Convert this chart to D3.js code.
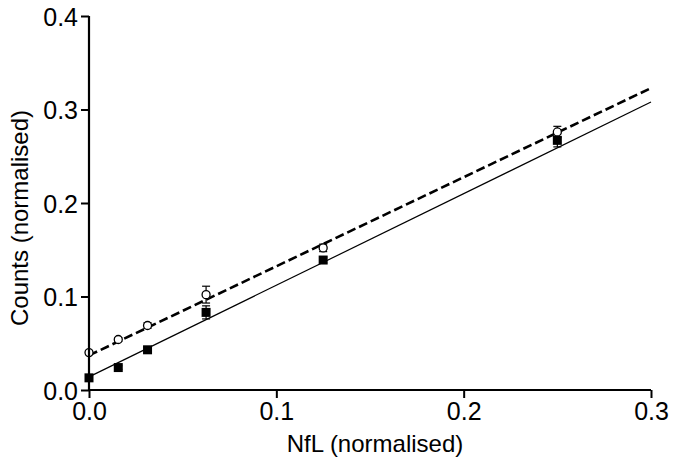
<!DOCTYPE html>
<html><head><meta charset="utf-8">
<script src="https://cdn.jsdelivr.net/npm/d3@7"></script>
<style>body{margin:0;background:#fff}svg{display:block}text{font-family:"Liberation Sans",Arial,sans-serif}</style>
</head><body>
<svg id="c" width="674" height="473"></svg>
<script>
const xValues = [0, 0.015625, 0.03125, 0.0625, 0.125, 0.25];
const openValues = [0.040, 0.054, 0.069, 0.102, 0.152, 0.276];
const openErr = [0.002, 0.002, 0.003, 0.009, 0.004, 0.006];
const filledValues = [0.013, 0.024, 0.043, 0.083, 0.139, 0.267];
const filledErr = [0.002, 0.002, 0.003, 0.007, 0.003, 0.007];
const openFit = [0.037, 0.953];   // intercept, slope
const filledFit = [0.014, 0.980];
const xTicks = [0.0, 0.1, 0.2, 0.3];
const yTicks = [0.0, 0.1, 0.2, 0.3, 0.4];

const svg = d3.select("#c");
const x = d3.scaleLinear().domain([0, 0.3]).range([89, 651]);
const y = d3.scaleLinear().domain([0, 0.4]).range([390, 16]);

const fitLine = (f) => [[0, f[0]], [0.3, f[0] + f[1] * 0.3]];
svg.append("path").attr("d", d3.line().x(d => x(d[0])).y(d => y(d[1]))(fitLine(filledFit)))
  .attr("stroke", "#000").attr("stroke-width", 1.2).attr("fill", "none");
svg.append("path").attr("d", d3.line().x(d => x(d[0])).y(d => y(d[1]))(fitLine(openFit)))
  .attr("stroke", "#000").attr("stroke-width", 2.6).attr("fill", "none").attr("stroke-dasharray", "9,4");

function errBars(vals, errs) {
  const g = svg.append("g").attr("stroke", "#000").attr("stroke-width", 1.2);
  xValues.forEach((xv, i) => {
    const cx = x(xv), y1 = y(vals[i] + errs[i]), y2 = y(vals[i] - errs[i]);
    g.append("line").attr("x1", cx).attr("x2", cx).attr("y1", y1).attr("y2", y2);
    g.append("line").attr("x1", cx - 4).attr("x2", cx + 4).attr("y1", y1).attr("y2", y1);
    g.append("line").attr("x1", cx - 4).attr("x2", cx + 4).attr("y1", y2).attr("y2", y2);
  });
}
errBars(filledValues, filledErr);
errBars(openValues, openErr);

svg.append("g").selectAll("rect").data(xValues).join("rect")
  .attr("x", d => x(d) - 4.5).attr("y", (d, i) => y(filledValues[i]) - 4.5)
  .attr("width", 9).attr("height", 9).attr("fill", "#000");
svg.append("g").selectAll("circle").data(xValues).join("circle")
  .attr("cx", d => x(d)).attr("cy", (d, i) => y(openValues[i])).attr("r", 4)
  .attr("fill", "#fff").attr("stroke", "#000").attr("stroke-width", 1.3);

const xAxis = svg.append("g").attr("transform", "translate(0,390)")
  .call(d3.axisBottom(x).tickValues(xTicks).tickFormat(d3.format(".1f")).tickSize(8).tickPadding(4));
const yAxis = svg.append("g").attr("transform", "translate(89,0)")
  .call(d3.axisLeft(y).tickValues(yTicks).tickFormat(d3.format(".1f")).tickSize(8).tickPadding(3));
[xAxis, yAxis].forEach(a => {
  a.select(".domain").attr("stroke-width", 2.2).attr("stroke", "#000");
  a.selectAll(".tick line").attr("stroke-width", 2).attr("stroke", "#000");
  a.selectAll(".tick text").attr("font-size", 25).attr("fill", "#000")
    .style("font-family", '"Liberation Sans", Arial, sans-serif');
});
xAxis.select(".domain").attr("d", "M89,0H651");
yAxis.select(".domain").attr("d", "M0,390V16");
yAxis.selectAll(".tick text").attr("dy", "0.36em");

svg.append("text").attr("x", 375).attr("y", 452).attr("text-anchor", "middle")
  .attr("font-size", 24).text("NfL (normalised)");
svg.append("text").attr("transform", "translate(28,218) rotate(-90)").attr("text-anchor", "middle")
  .attr("font-size", 24).text("Counts (normalised)");
</script>
</body></html>
